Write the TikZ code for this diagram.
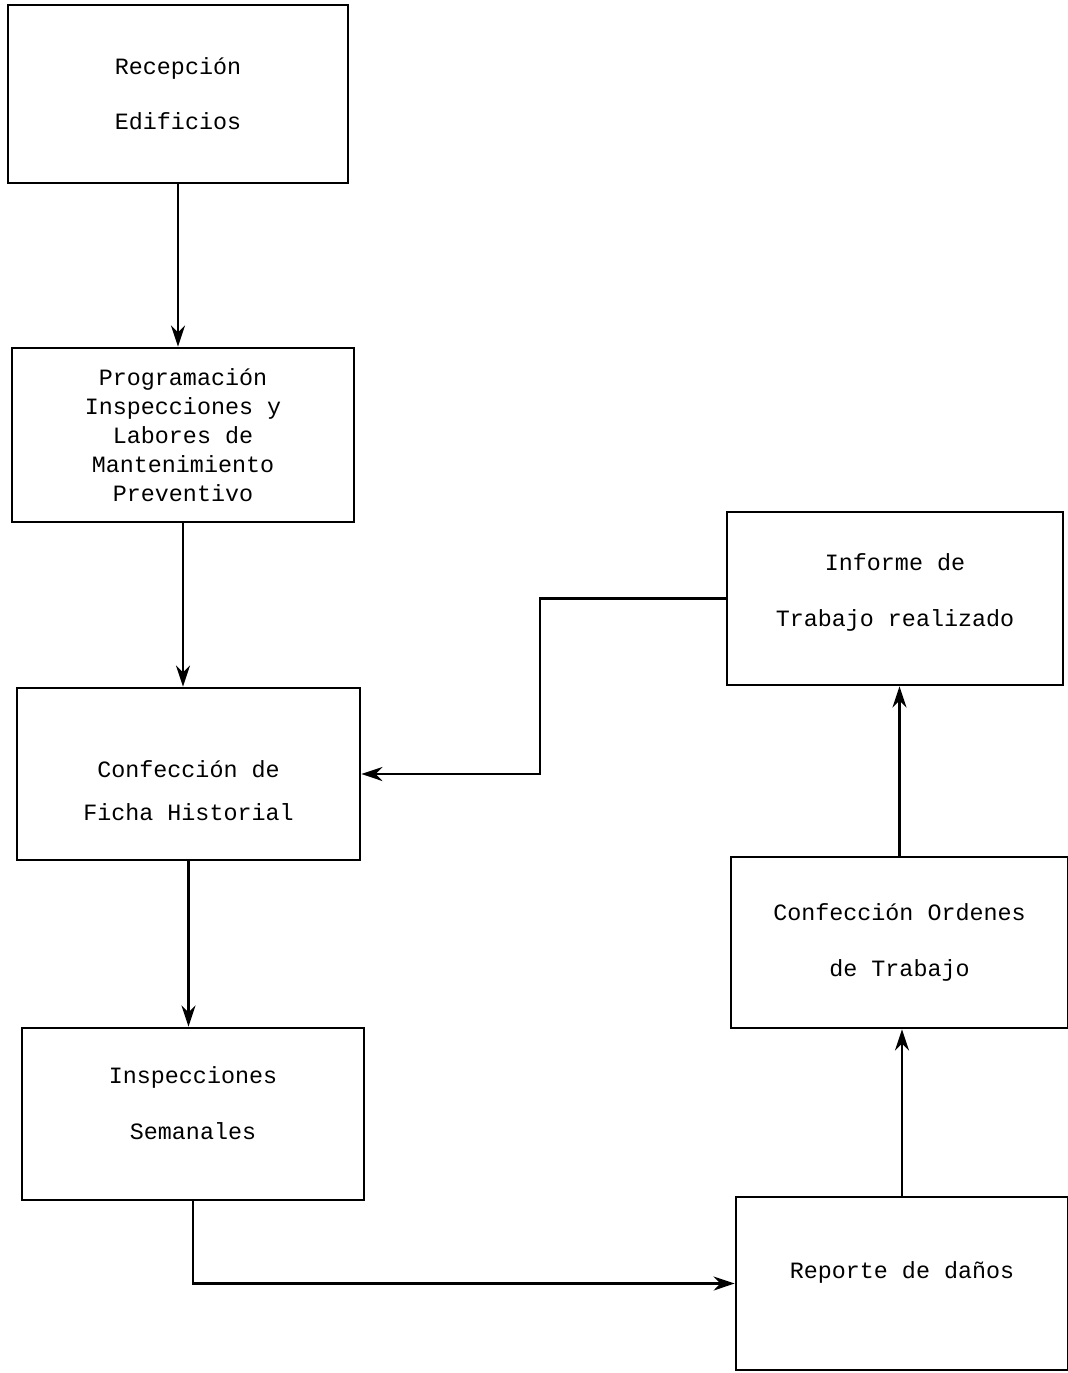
\documentclass[tikz,border=0pt]{standalone}
\usepackage{fontspec}
\usepackage{tikz}
\usetikzlibrary{arrows.meta}
\newfontfamily\typewr{Liberation Mono}

\tikzset{
  caja/.style={draw, line width=1.6pt, align=center, inner sep=0pt,
    font=\typewr\fontsize{13.3}{16.5}\selectfont},
  flecha/.style={line width=1.2pt, -{Stealth[length=12pt,width=8pt]}}
}

\begin{document}
\begin{tikzpicture}[x=0.02cm, y=-0.02cm]
\useasboundingbox (0,0) rectangle (1068,1373);

\node[caja, minimum width=6.8cm, minimum height=3.56cm] (recep) at (178,94)
	{Recepción\\[15pt]Edificios};
\node[caja, minimum width=6.84cm, minimum height=3.48cm] (progr) at (183,435)
	{Programación\\Inspecciones y\\Labores de\\Mantenimiento\\Preventivo};
\node[caja, minimum width=6.86cm, minimum height=3.44cm] (ficha) at (188.5,774)
	{\\[12pt]Confección de\\[8pt]Ficha Historial};
\node[caja, minimum width=6.84cm, minimum height=3.44cm] (insp) at (193,1114)
	{Inspecciones\\[15pt]Semanales\\[-4pt]};
\node[caja, minimum width=6.64cm, minimum height=3.46cm] (repor) at (902,1283.5)
	{Reporte de daños\\[-1pt]};
\node[caja, minimum width=6.74cm, minimum height=3.42cm] (orden) at (899.5,942.5)
	{Confección Ordenes\\[15pt]de Trabajo};
\node[caja, minimum width=6.72cm, minimum height=3.46cm] (inform) at (895,598.5)
	{Informe de\\[15pt]Trabajo realizado\\[-7pt]};

\draw[flecha] (recep.south) -- (recep.south |- progr.north);
\draw[flecha] (progr.south) -- (progr.south |- ficha.north);
\draw[flecha] (ficha.south) -- (ficha.south |- insp.north);
\draw[flecha] (insp.south) |- (repor.west);
\draw[flecha] (repor.north) -- (repor.north |- orden.south);
\draw[flecha] (orden.north) -- (orden.north |- inform.south);
\draw[flecha] (inform.west) -- ++(-186,0) |- (ficha.east);

\end{tikzpicture}
\end{document}
